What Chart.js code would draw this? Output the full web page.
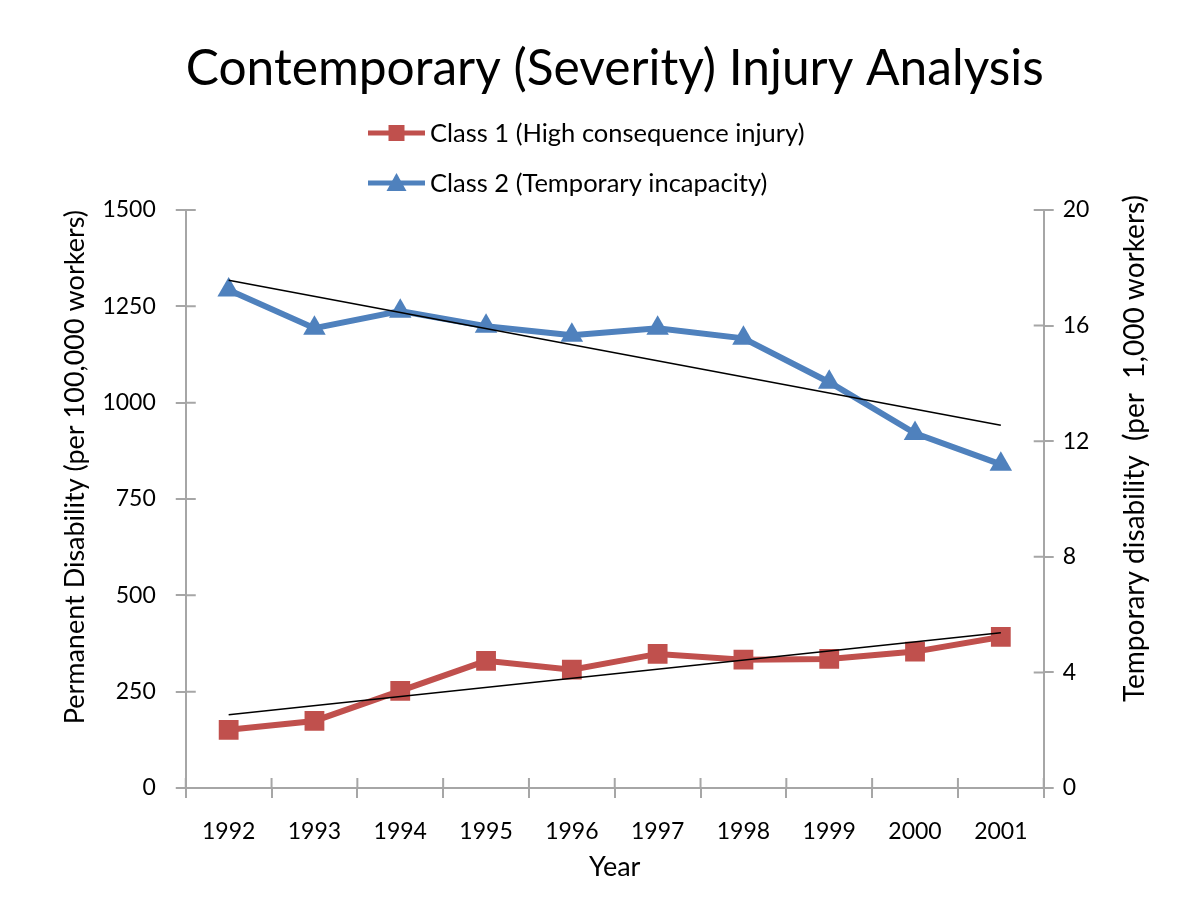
<!DOCTYPE html>
<html>
<head>
<meta charset="utf-8">
<script src="https://cdn.jsdelivr.net/npm/chart.js@4.4.1/dist/chart.umd.min.js"></script>
<style>
  html, body { margin: 0; padding: 0; background: #fff; }
  #wrap { width: 1200px; height: 899px; }
</style>
</head>
<body>
<div id="wrap"><canvas id="c"></canvas></div>
<script>
// Contemporary (Severity) Injury Analysis — two classes on twin axes, with linear trend lines.

const YEARS = ['1992', '1993', '1994', '1995', '1996', '1997', '1998', '1999', '2000', '2001'];
// Class 1, left axis (per 100,000 workers)
const CLASS1 = [151, 174, 252, 330, 307, 348, 333, 335, 354, 392];
// Class 2, right axis (per 1,000 workers)
const CLASS2 = [17.23, 15.91, 16.5, 15.98, 15.67, 15.91, 15.56, 14.04, 12.27, 11.2];
// trend lines (first and last year only)
const TREND1 = [190, null, null, null, null, null, null, null, null, 403];
const TREND2 = [17.57, null, null, null, null, null, null, null, null, 12.55];

const LEFT_TICKS = { min: 0, max: 1500, step: 250 };
const RIGHT_TICKS = { min: 0, max: 20, step: 4 };

const RED = '#C0504D';
const BLUE = '#4F81BD';
const AXIS = '#A6A6A6';
const FONT = 'Lato, "Open Sans", sans-serif';
const RIGHT_TITLE = 'Temporary disability  (per  1,000 workers)';

const tickFont = { family: FONT, size: 23 };
const titleFont = { family: FONT, size: 27 };
const rightTitleFont = { family: FONT, size: 28 };
const RIGHT_TITLE_PAD = 17;

// axis ticks in the original cross the axis line; Chart.js only draws the outer half
const crossTicks = {
  id: 'crossTicks',
  afterDraw(chart) {
    const { ctx, chartArea: a } = chart;
    const L = 10;
    ctx.save();
    ctx.strokeStyle = AXIS;
    ctx.lineWidth = 2;
    ctx.beginPath();
    chart.scales.y.ticks.forEach((t, i) => {
      const p = chart.scales.y.getPixelForTick(i);
      ctx.moveTo(a.left, p); ctx.lineTo(a.left + L, p);
    });
    chart.scales.y1.ticks.forEach((t, i) => {
      const p = chart.scales.y1.getPixelForTick(i);
      ctx.moveTo(a.right, p); ctx.lineTo(a.right - L, p);
    });
    const xs = chart.scales.x;
    for (let i = 0; i <= xs.ticks.length; i++) {
      const p = xs.getPixelForValue(i - 0.5);
      ctx.moveTo(p, a.bottom); ctx.lineTo(p, a.bottom - L);
    }
    ctx.stroke();
    ctx.restore();
  },
};

// right axis title reads bottom-to-top in the original (Chart.js turns it the other way)
const rightTitle = {
  id: 'rightTitle',
  afterDraw(chart) {
    const { ctx, chartArea: a } = chart;
    const s = chart.scales.y1;
    const x = s.right - rightTitleFont.size * 1.2 / 2 - RIGHT_TITLE_PAD;
    ctx.save();
    ctx.translate(x, a.top - 15);
    ctx.rotate(-Math.PI / 2);
    ctx.font = `${rightTitleFont.size}px ${FONT}`;
    ctx.fillStyle = '#000';
    ctx.textAlign = 'right';
    ctx.textBaseline = 'middle';
    ctx.fillText(RIGHT_TITLE, 0, 0);
    ctx.restore();
  },
};

// two-row legend (line sample + marker), as in the Excel original
const stackedLegend = {
  id: 'stackedLegend',
  afterDraw(chart) {
    const { ctx } = chart;
    const left = 368, top = 133, row = 50, lineLen = 57;
    ctx.save();
    ctx.font = `25.5px ${FONT}`;
    ctx.textBaseline = 'middle';
    chart.data.datasets.slice(0, 2).forEach((ds, i) => {
      const y = top + i * row;
      const cx = left + lineLen / 2;
      ctx.strokeStyle = ds.borderColor;
      ctx.lineWidth = 5;
      ctx.beginPath(); ctx.moveTo(left, y); ctx.lineTo(left + lineLen, y); ctx.stroke();
      ctx.fillStyle = ds.borderColor;
      ctx.beginPath();
      if (ds.pointStyle === 'rect') {
        ctx.rect(cx - 8, y - 8, 16, 16);
      } else {
        ctx.moveTo(cx, y - 10); ctx.lineTo(cx + 10, y + 8); ctx.lineTo(cx - 10, y + 8); ctx.closePath();
      }
      ctx.fill();
      ctx.fillStyle = '#000';
      ctx.fillText(ds.label, left + lineLen + 5, y + 1);
    });
    ctx.restore();
  },
};

const axisGrid = { drawOnChartArea: false, drawTicks: true, tickLength: 10, color: AXIS, lineWidth: 2 };

new Chart(document.getElementById('c'), {
  type: 'line',
  data: {
    labels: YEARS,
    datasets: [
      { label: 'Class 1 (High consequence injury)', data: CLASS1, yAxisID: 'y', order: 2,
        borderColor: RED, backgroundColor: RED, borderWidth: 6,
        pointStyle: 'rect', pointRadius: 14, pointBorderWidth: 0 },
      { label: 'Class 2 (Temporary incapacity)', data: CLASS2, yAxisID: 'y1', order: 3,
        borderColor: BLUE, backgroundColor: BLUE, borderWidth: 6,
        pointStyle: 'triangle', pointRadius: 13, pointBorderWidth: 0 },
      { label: 'trend 1', data: TREND1, yAxisID: 'y', order: 0, spanGaps: true,
        borderColor: '#000', borderWidth: 1.6, pointRadius: 0 },
      { label: 'trend 2', data: TREND2, yAxisID: 'y1', order: 1, spanGaps: true,
        borderColor: '#000', borderWidth: 1.6, pointRadius: 0 },
    ],
  },
  options: {
    responsive: true, maintainAspectRatio: false, animation: false,
    layout: { padding: { left: 57, right: 31, top: 0, bottom: 16 } },
    plugins: {
      legend: { display: false },
      tooltip: { enabled: false },
      title: {
        display: true, fullSize: false, text: 'Contemporary (Severity) Injury Analysis', color: '#000',
        font: { family: FONT, size: 50, weight: 'normal' }, padding: { top: 39, bottom: 111 },
      },
    },
    scales: {
      x: {
        offset: true,
        grid: { ...axisGrid, offset: true },
        border: { color: AXIS, width: 2 },
        ticks: { color: '#000', font: tickFont, padding: 20, maxRotation: 0 },
        title: { display: true, text: 'Year', color: '#000', font: titleFont, padding: { top: -15, bottom: 0 } },
      },
      y: {
        position: 'left', min: LEFT_TICKS.min, max: LEFT_TICKS.max,
        grid: axisGrid,
        border: { color: AXIS, width: 2 },
        ticks: { stepSize: LEFT_TICKS.step, color: '#000', font: tickFont, padding: 20, callback: v => String(v) },
        title: { display: true, align: 'end', text: 'Permanent Disability (per 100,000 workers)', color: '#000', font: titleFont, padding: { top: 2, bottom: -9 } },
      },
      y1: {
        position: 'right', min: RIGHT_TICKS.min, max: RIGHT_TICKS.max,
        grid: axisGrid,
        border: { color: AXIS, width: 2 },
        ticks: { stepSize: RIGHT_TICKS.step, color: '#000', font: tickFont, padding: 9, callback: v => String(v) },
        // space only; drawn by the rightTitle plugin
        title: { display: true, text: RIGHT_TITLE, color: 'rgba(0,0,0,0)', font: rightTitleFont, padding: 18.5 },
      },
    },
  },
  plugins: [crossTicks, rightTitle, stackedLegend],
});
</script>
</body>
</html>
